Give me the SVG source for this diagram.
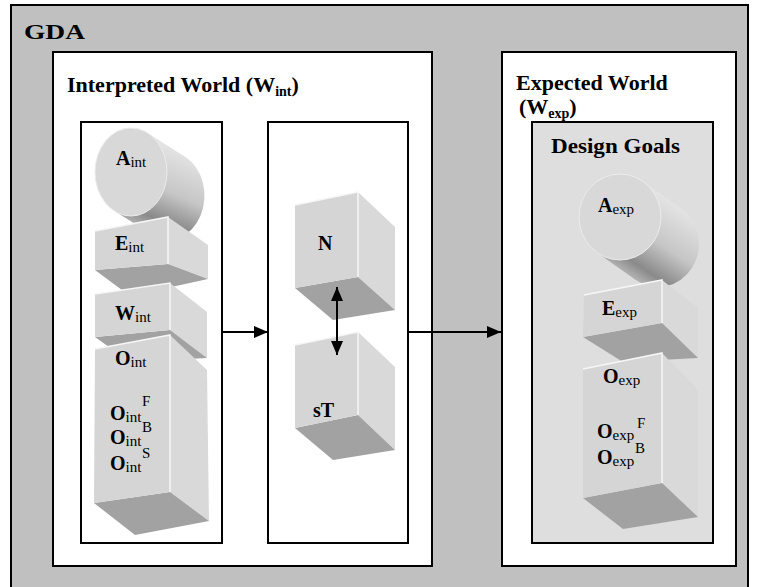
<svg xmlns="http://www.w3.org/2000/svg" width="759" height="587" viewBox="0 0 759 587">
<style>
text{font-family:"Liberation Serif","Times New Roman",serif;fill:#000}
.T{font-size:22px;font-weight:bold}
.ts{font-size:14px;font-weight:bold}
.L{font-size:20px;font-weight:bold}
.s{font-size:15px;font-weight:normal}
.sup{font-size:15px;font-weight:normal}
.box{stroke:#000;stroke-width:2}
.front{fill:#d5d5d5}
.side{fill:#d9d9d9}
.bot{fill:#a2a2a2}
.hl{fill:none;stroke:#f6f6f6;stroke-width:1.5}
.face{fill:#d8d8d8;stroke:#ececec;stroke-width:1}
.conn{stroke:#000;stroke-width:2;fill:none}
</style>
<defs>
<marker id="ah" viewBox="0 0 14 12" refX="14" refY="6" markerWidth="14" markerHeight="12" markerUnits="userSpaceOnUse" orient="auto-start-reverse">
<path d="M0,0 L14,6 L0,12 z" fill="#000"/>
</marker>
<linearGradient id="cylL" gradientUnits="userSpaceOnUse" x1="166.5" y1="144.9" x2="133.5" y2="223.1">
<stop offset="0" stop-color="#e4e4e4"/>
<stop offset="0.5" stop-color="#c6c6c6"/>
<stop offset="0.85" stop-color="#8a8a8a"/>
<stop offset="1" stop-color="#b0b0b0"/>
</linearGradient>
<linearGradient id="cylR" gradientUnits="userSpaceOnUse" x1="662" y1="194.9" x2="616" y2="266.1">
<stop offset="0" stop-color="#e4e4e4"/>
<stop offset="0.5" stop-color="#c6c6c6"/>
<stop offset="0.85" stop-color="#8a8a8a"/>
<stop offset="1" stop-color="#b0b0b0"/>
</linearGradient>
</defs>

<rect x="11" y="5" width="737" height="600" fill="#c0c0c0" class="box"/>
<text x="24" y="39" class="T" textLength="61" lengthAdjust="spacingAndGlyphs">GDA</text>

<g id="interpreted-world">
<rect x="53" y="52" width="379" height="514" fill="#fff" class="box"/>
<text x="67" y="92" class="T">Interpreted World (W<tspan class="ts" dy="4">int</tspan><tspan dy="-4">)</tspan></text>
</g>

<g id="expected-world">
<rect x="502" y="52" width="234" height="514" fill="#fff" class="box"/>
<text x="516" y="90" class="T">Expected World</text>
<text x="519" y="114" class="T">(W<tspan class="ts" dy="4">exp</tspan><tspan dy="-4">)</tspan></text>
</g>

<g id="int-column">
<rect x="81" y="122" width="141" height="421" fill="#fff" class="box"/>
</g>

<g id="middle-column">
<rect x="268" y="122" width="140" height="421" fill="#fff" class="box"/>
</g>

<g id="design-goals">
<rect x="532" y="122" width="181" height="421" fill="#dedede" class="box"/>
<text x="551" y="153" class="T" textLength="129" lengthAdjust="spacingAndGlyphs">Design Goals</text>
</g>

<g id="A-int">
<path d="M147.5,132.9 L185.5,156.9 A36,44 0 0 1 152.5,235.1 L114.5,211.1 Z" fill="url(#cylL)"/>
<ellipse cx="131" cy="172" rx="36" ry="44" class="face"/>
<text x="116" y="165" class="L">A<tspan class="s" dy="2">int</tspan></text>
</g>

<g id="E-int">
<polygon points="168,217 208,245 208,279 168,264" class="side"/>
<polygon points="95,270 168,264 208,279 130,296" class="bot"/>
<polygon points="95,231 168,217 168,264 95,270" class="front"/>
<polyline points="95,231 168,217 168,264" class="hl"/>
<text x="115" y="250" class="L">E<tspan class="s" dy="2">int</tspan></text>
</g>

<g id="W-int">
<polygon points="170,283 207,312 207,358 170,330" class="side"/>
<polygon points="95,337 170,330 207,358 130,362" class="bot"/>
<polygon points="95,294 170,283 170,330 95,337" class="front"/>
<polyline points="95,294 170,283 170,330" class="hl"/>
<text x="115" y="320" class="L">W<tspan class="s" dy="2">int</tspan></text>
</g>

<g id="O-int">
<polygon points="170,335 207,370 209,521 170,492" class="side"/>
<polygon points="94,503 170,492 209,521 135,535" class="bot"/>
<polygon points="95,349 170,335 170,492 94,503" class="front"/>
<polyline points="95,349 170,335 170,492" class="hl"/>
<text x="115" y="365" class="L">O<tspan class="s" dy="2">int</tspan></text>
<text x="110" y="420" class="L">O<tspan class="s" dy="2">int</tspan></text>
<text x="142" y="406" class="sup">F</text>
<text x="110" y="444" class="L">O<tspan class="s" dy="2">int</tspan></text>
<text x="142" y="432" class="sup">B</text>
<text x="110" y="470" class="L">O<tspan class="s" dy="2">int</tspan></text>
<text x="142" y="458" class="sup">S</text>
</g>

<g id="N">
<polygon points="358,192 395,227 395,310 358,277" class="side"/>
<polygon points="295,288 358,277 395,310 333,320" class="bot"/>
<polygon points="295,205 358,192 358,277 295,288" class="front"/>
<polyline points="295,205 358,192 358,277" class="hl"/>
<text x="318" y="250" class="L">N</text>
</g>

<g id="sT">
<polygon points="358,332 395,367 395,450 358,415" class="side"/>
<polygon points="295,428 358,415 395,450 333,460" class="bot"/>
<polygon points="295,345 358,332 358,415 295,428" class="front"/>
<polyline points="295,345 358,332 358,415" class="hl"/>
<text x="313" y="417" class="L">sT</text>
</g>

<g id="A-exp">
<path d="M643,181.4 L681,208.4 A41,43 0 0 1 635,279.6 L597,252.6 Z" fill="url(#cylR)"/>
<ellipse cx="620" cy="217" rx="41" ry="43" class="face"/>
<text x="598" y="212" class="L">A<tspan class="s" dy="2">exp</tspan></text>
</g>

<g id="E-exp">
<polygon points="662,280 698,308 698,358 662,323" class="side"/>
<polygon points="583,337 662,323 698,358 623,362" class="bot"/>
<polygon points="584,295 662,280 662,323 583,337" class="front"/>
<polyline points="584,295 662,280 662,323" class="hl"/>
<text x="602" y="315" class="L">E<tspan class="s" dy="2">exp</tspan></text>
</g>

<g id="O-exp">
<polygon points="662,353 698,390 698,517 662,483" class="side"/>
<polygon points="583,498 662,483 698,517 623,529" class="bot"/>
<polygon points="583,369 662,353 662,483 583,498" class="front"/>
<polyline points="583,369 662,353 662,483" class="hl"/>
<text x="603" y="383" class="L">O<tspan class="s" dy="2">exp</tspan></text>
<text x="597" y="438" class="L">O<tspan class="s" dy="2">exp</tspan></text>
<text x="637" y="428" class="sup">F</text>
<text x="635" y="453" class="sup">B</text>
<text x="597" y="464" class="L">O<tspan class="s" dy="2">exp</tspan></text>
</g>

<g id="connectors">
<line x1="222" y1="332" x2="268" y2="332" class="conn" marker-end="url(#ah)"/>
<line x1="409" y1="332" x2="501" y2="332" class="conn" marker-end="url(#ah)"/>
<line x1="337" y1="287" x2="337" y2="355" class="conn" marker-start="url(#ah)" marker-end="url(#ah)"/>
</g>
</svg>
